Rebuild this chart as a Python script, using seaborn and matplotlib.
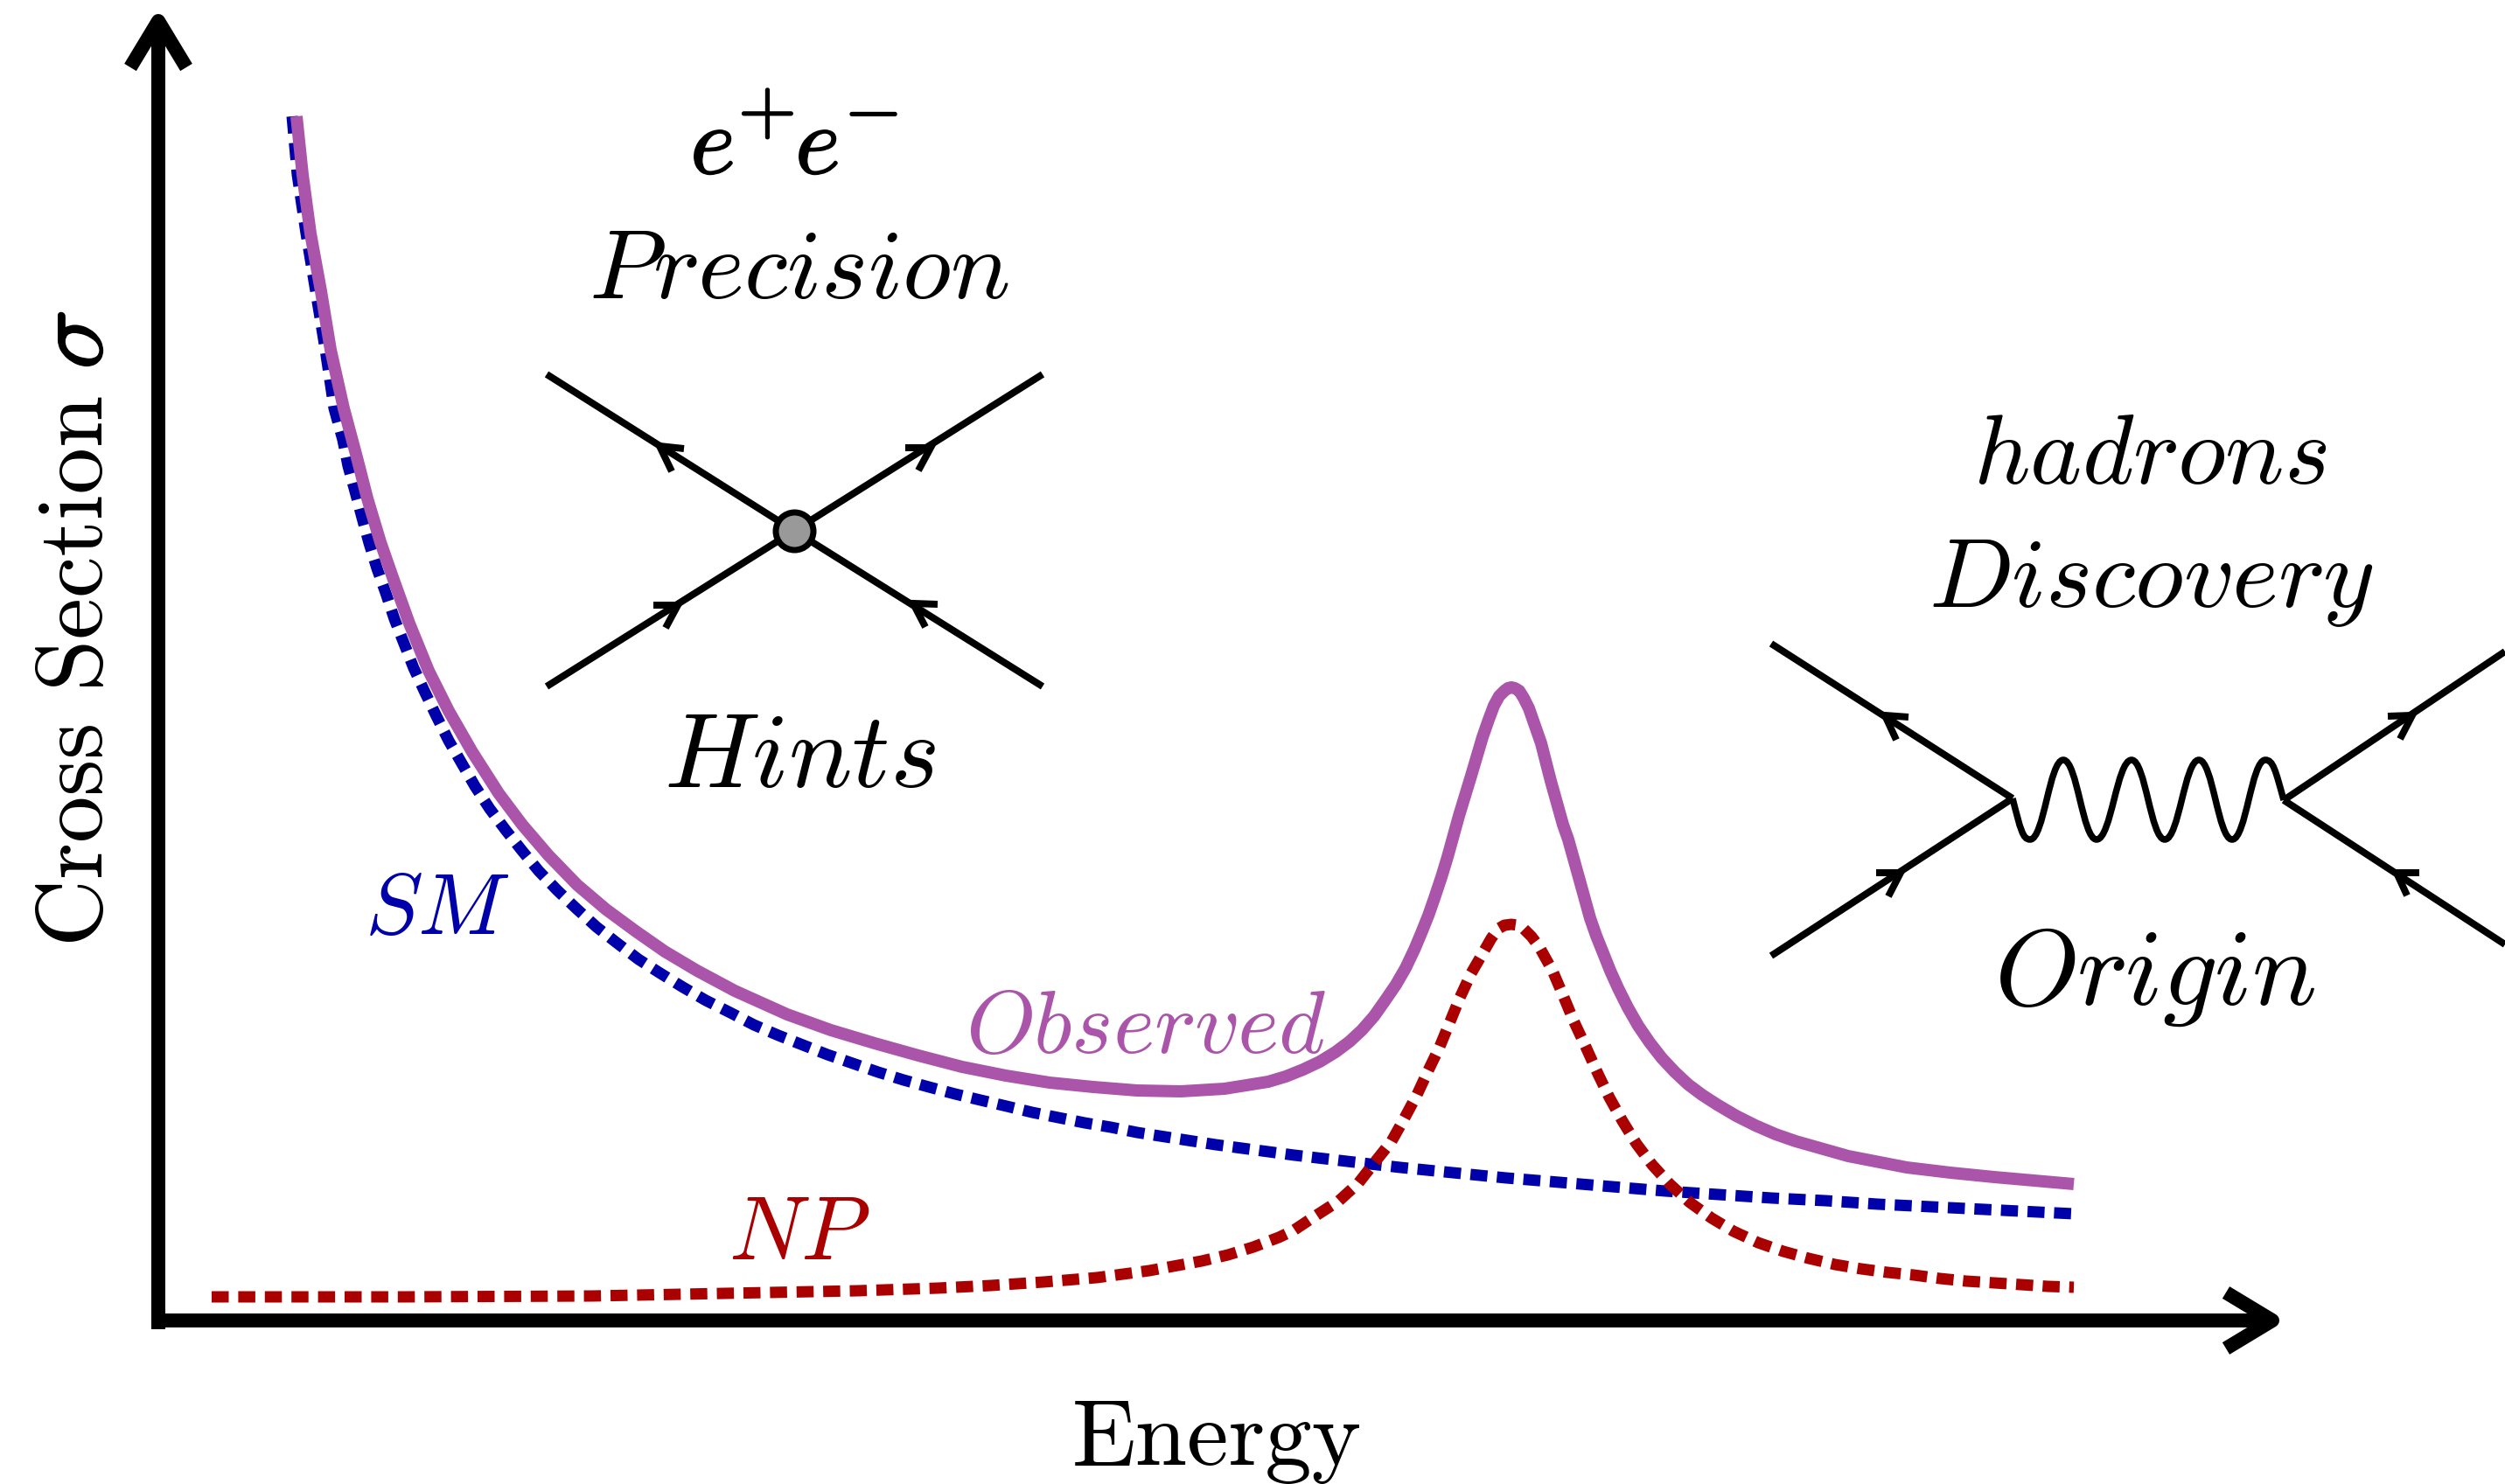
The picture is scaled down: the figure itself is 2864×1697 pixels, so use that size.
import matplotlib
matplotlib.use('Agg')
import matplotlib.pyplot as plt
import matplotlib.patheffects as pe
from matplotlib.path import Path
from matplotlib.patches import PathPatch
import seaborn as sns

# curves (x = energy, y = cross section, in image pixels)
obs_x = [339, 346, 355, 367, 378, 393, 408, 420, 435, 450, 468, 490, 513, 540, 570, 597, 627, 660, 693, 727, 760, 797, 840,
         900, 950, 1000, 1050, 1100, 1150, 1200, 1250, 1300, 1350, 1400, 1450, 1470, 1490, 1509, 1527, 1543, 1557, 1571,
         1583, 1596, 1607, 1617, 1625, 1633, 1640, 1648, 1655, 1668, 1682, 1695, 1702, 1708, 1714, 1720, 1724, 1728, 1732,
         1737, 1742, 1748, 1755, 1762, 1773, 1787, 1793, 1805, 1818, 1825, 1833, 1841, 1850, 1861, 1873, 1886, 1900, 1915,
         1930, 1946, 1963, 1985, 2007, 2030, 2053, 2113, 2180, 2230, 2280, 2371]
obs_y = [133, 200, 267, 333, 400, 467, 523, 570, 620, 663, 713, 767, 813, 860, 907, 943, 978, 1012, 1040, 1065, 1088, 1110, 1133,
         1160, 1178, 1193, 1207, 1220, 1230, 1238, 1243, 1247, 1248, 1245, 1237, 1231, 1223, 1214, 1203, 1191, 1178, 1162,
         1145, 1126, 1107, 1086, 1067, 1047, 1027, 1003, 980, 933, 887, 843, 823, 807, 796, 790, 787, 786, 787,
         790, 798, 810, 830, 850, 893, 943, 960, 1003, 1050, 1070, 1090, 1110, 1130, 1152, 1173, 1192, 1210, 1226,
         1240, 1252, 1263, 1276, 1287, 1297, 1305, 1322, 1335, 1341, 1346, 1354]

sm_x = [334, 340, 350, 361, 372, 382, 392, 398, 406, 414, 422, 431, 441, 451, 462, 473, 486, 499, 513, 528, 543, 560, 578, 597,
        616, 637, 659, 682, 705, 730, 755, 781, 807, 835, 862, 890, 918, 946, 975, 1004, 1033, 1062, 1092, 1121, 1151,
        1180, 1210, 1240, 1270, 1300, 1390, 1480, 1540, 1601, 1661, 1722, 1783, 1843, 1904, 1965, 2026, 2087, 2147,
        2208, 2269, 2330, 2371]
sm_y = [133, 200, 267, 333, 400, 467, 503, 533, 562, 592, 621, 650, 678, 708, 736, 764, 792, 819, 847, 873, 899, 925, 949, 973,
        996, 1018, 1039, 1060, 1078, 1097, 1113, 1129, 1144, 1158, 1172, 1184, 1195, 1206, 1216, 1226, 1235, 1243, 1251,
        1258, 1265, 1272, 1278, 1284, 1289, 1295, 1309, 1321, 1328, 1335, 1341, 1347, 1352, 1357, 1362, 1366, 1370, 1373,
        1377, 1380, 1383, 1386, 1388]

np_x = [242, 462, 677, 829, 981, 1072, 1133, 1193, 1254, 1314, 1374, 1404, 1433, 1462, 1479, 1500, 1531, 1553, 1571,
        1591, 1605, 1620, 1633, 1646, 1658, 1669, 1682, 1697, 1705, 1713, 1720, 1728, 1735, 1742, 1751, 1760, 1775, 1787,
        1799, 1813, 1827, 1840, 1855, 1871, 1889, 1909, 1932, 1957, 1982, 2010, 2039, 2068, 2098, 2128, 2158, 2188, 2218,
        2248, 2280, 2341, 2371]
np_y = [1483, 1483, 1482, 1479, 1476, 1473, 1470, 1466, 1461, 1453, 1442, 1435, 1426, 1415, 1407, 1393, 1373, 1353, 1330,
        1305, 1280, 1252, 1224, 1197, 1168, 1141, 1113, 1087, 1073, 1062, 1058, 1057, 1058, 1062, 1071, 1083, 1110, 1138,
        1167, 1197, 1228, 1255, 1282, 1308, 1332, 1354, 1375, 1393, 1408, 1421, 1431, 1439, 1446, 1451, 1455, 1458, 1462,
        1465, 1467, 1471, 1472]

# feynman diagrams: (start, end) of each fermion line
contact_lines = [((625, 428), (908, 607)), ((1192, 428), (908, 607)), ((625, 785), (908, 607)), ((1192, 785), (908, 607))]
contact_vertex = (908, 607)
contact_arrows = [((782, 513), (754, 510), (768, 539)), ((1035, 512), (1064, 512), (1050, 538)),
                  ((747, 692), (775, 692), (761, 718)), ((1072, 691), (1044, 690), (1058, 717))]

s_lines = [((2025, 736), (2301, 913)), ((2025, 1093), (2301, 913)), ((2864, 745), (2611, 915)), ((2864, 1080), (2611, 915))]
s_arrows = [((2182, 820), (2155, 818), (2168, 846)), ((2730, 819), (2758, 818), (2744, 845)),
            ((2145, 998), (2173, 998), (2159, 1025)), ((2766, 998), (2740, 998), (2752, 1024))]
wiggle_x = [2301, 2321, 2359, 2397, 2437, 2475, 2514, 2552, 2590, 2611]
wiggle_y = [913, 960, 869, 960, 869, 960, 869, 960, 869, 915]

purple = '#AA55AA'
blue = '#0000AA'
red = '#AA0000'
black = '#000000'

sns.set_theme(style='white')
plt.rcParams['mathtext.fontset'] = 'cm'
plt.rcParams['text.color'] = black

PX = 0.72  # one image pixel in points at dpi=100

fig = plt.figure(figsize=(28.64, 16.97), dpi=100)
ax = fig.add_axes([0, 0, 1, 1])

# curves
dash = (0, (19.5 / 13, 10.9 / 13))
sns.lineplot(x=sm_x, y=sm_y, ax=ax, color=blue, linewidth=13 * PX, linestyle=dash, sort=False, estimator=None,
             dash_capstyle='butt', dash_joinstyle='round')
sns.lineplot(x=obs_x, y=obs_y, ax=ax, color=purple, linewidth=14 * PX, sort=False, estimator=None,
             solid_capstyle='butt', solid_joinstyle='round')
sns.lineplot(x=np_x, y=np_y, ax=ax, color=red, linewidth=13 * PX, linestyle=dash, sort=False, estimator=None,
             dash_capstyle='butt', dash_joinstyle='round')

# axis arrows
ax.plot([181, 181], [1520, 30], color=black, lw=16 * PX, solid_capstyle='butt')
ax.plot([173, 2590], [1510, 1510], color=black, lw=16 * PX, solid_capstyle='butt')
ax.plot([149, 181, 213], [77, 24, 77], color=black, lw=16 * PX, solid_capstyle='butt', solid_joinstyle='round')
ax.plot([2545, 2598, 2545], [1478, 1510, 1542], color=black, lw=16 * PX, solid_capstyle='butt', solid_joinstyle='round')


def draw_fermions(lines, arrows):
    for (a, b) in lines:
        ax.plot([a[0], b[0]], [a[1], b[1]], color=black, lw=8 * PX, solid_capstyle='butt')
    for (p, tip, q) in arrows:
        ax.plot([p[0], tip[0], q[0]], [p[1], tip[1], q[1]], color=black, lw=8 * PX,
                solid_capstyle='butt', solid_joinstyle='miter')


draw_fermions(contact_lines, contact_arrows)
draw_fermions(s_lines, s_arrows)

ax.plot([contact_vertex[0]], [contact_vertex[1]], 'o', ms=43 * PX, mfc='#999999', mec=black, mew=7 * PX)

# photon line as bezier segments between crests and troughs
verts = [(wiggle_x[0], wiggle_y[0])]
codes = [Path.MOVETO]
for i in range(1, len(wiggle_x)):
    x0, y0, x1, y1 = wiggle_x[i - 1], wiggle_y[i - 1], wiggle_x[i], wiggle_y[i]
    k = (x1 - x0) * 0.42
    c0 = (x0 + k, y0) if i > 1 else (x0 + (x1 - x0) * 0.45, y0 + (y1 - y0) * 0.75)
    c1 = (x1 - k, y1) if i < len(wiggle_x) - 1 else (x1 - (x1 - x0) * 0.45, y1 - (y1 - y0) * 0.75)
    verts += [c0, c1, (x1, y1)]
    codes += [Path.CURVE4, Path.CURVE4, Path.CURVE4]
ax.add_patch(PathPatch(Path(verts, codes), fc='none', ec=black, lw=7.5 * PX))

# labels
bold = [pe.withStroke(linewidth=1.3, foreground=black)]
ax.text(814, 199, r'$e$', fontsize=80, ha='center', va='baseline', path_effects=bold)
ax.text(934, 199, r'$e$', fontsize=80, ha='center', va='baseline', path_effects=bold)
ax.text(876, 152, r'$+$', fontsize=62, ha='center', va='baseline', path_effects=bold)
ax.text(996, 152, r'$-$', fontsize=62, ha='center', va='baseline', path_effects=bold)
ax.text(913, 341, r'$\mathit{Precision}$', fontsize=82, ha='center', va='baseline')
ax.text(914, 900, r'$\mathit{Hints}$', fontsize=87, ha='center', va='baseline')
ax.text(2458, 553, r'$\mathit{hadrons}$', fontsize=81, ha='center', va='baseline')
ax.text(2459, 694, r'$\mathit{Discovery}$', fontsize=82, ha='center', va='baseline')
ax.text(2463, 1149, r'$\mathit{Origin}$', fontsize=89, ha='center', va='baseline')
ax.text(500, 1068, r'$\mathit{SM}$', fontsize=71, color=blue, ha='center', va='baseline')
ax.text(1310, 1204, r'$\mathit{Observed}$', fontsize=73, color=purple, ha='center', va='baseline')
ax.text(914, 1440, r'$\mathit{NP}$', fontsize=74, color=red, ha='center', va='baseline')
ax.text(1391, 1675, 'Energy', fontsize=77, family='cmr10', ha='center', va='baseline')
ax.text(117, 767, 'Cross Section', fontsize=77, family='cmr10', rotation=90, ha='center', va='baseline',
        rotation_mode='anchor')
ax.text(117, 389, r'$\sigma$', fontsize=82, rotation=90, ha='center', va='baseline', rotation_mode='anchor',
        path_effects=bold)

ax.set_xlim(0, 2864)
ax.set_ylim(1697, 0)
ax.set_axis_off()

fig.savefig('out.png', dpi=100)
